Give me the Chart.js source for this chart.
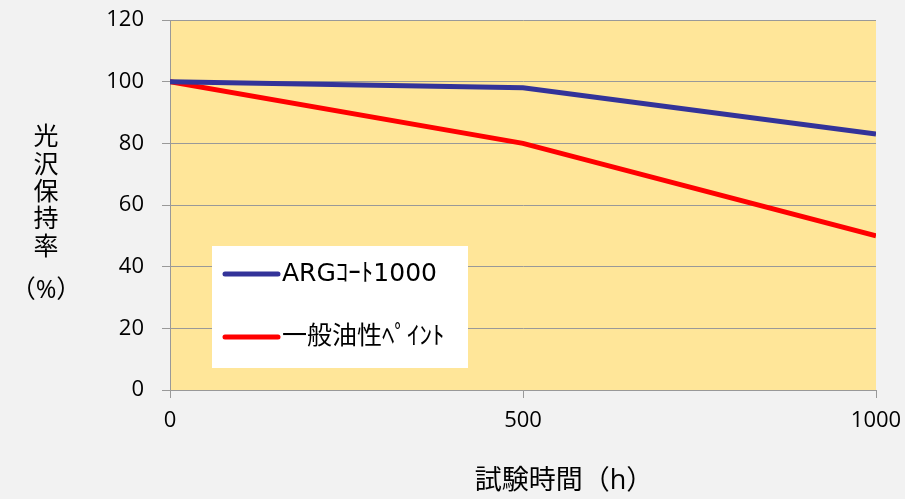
<!DOCTYPE html>
<html>
<head>
<meta charset="utf-8">
<script src="https://cdn.jsdelivr.net/npm/chart.js@4"></script>
<style>
  html, body { margin: 0; padding: 0; background: #f2f2f2; }
  #wrap { width: 905px; height: 499px; }
</style>
</head>
<body>
<div id="wrap"><canvas id="chart"></canvas></div>
<script>
// data
const hours = [0, 500, 1000];
const argCoat = [100, 98, 83];
const oilPaint = [100, 80, 50];
const seriesNames = ['ARGｺｰﾄ1000', '一般油性ﾍﾟｲﾝﾄ'];
const yTitle = ['光', '沢', '保', '持', '率', '（%）'];
const xTitle = '試験時間（h）';

const FONT = '"Open Sans", "Noto Sans CJK JP", sans-serif';
const LEGEND_FONT = '"DejaVu Sans", "Noto Sans CJK JP", sans-serif';

const toPoints = (vals) => hours.map((h, i) => ({ x: h, y: vals[i] }));

// fills the plot area, draws the axis titles and the boxed legend
const decor = {
    id: 'decor',
    beforeDraw(chart) {
        const { ctx, chartArea: a } = chart;
        ctx.save();
        ctx.fillStyle = '#ffe699';
        ctx.fillRect(a.left, a.top, a.right - a.left, a.bottom - a.top);
        ctx.restore();
    },
    afterDatasetsDraw(chart) {
        const ctx = chart.ctx;
        ctx.save();
        ctx.fillStyle = '#000';
        ctx.font = '25px ' + FONT;
        ctx.textAlign = 'center';
        ctx.textBaseline = 'middle';
        const ys = [138, 166, 193, 220, 248, 291];
        yTitle.forEach((t, i) => ctx.fillText(t, 46, ys[i]));
        ctx.font = '27px ' + FONT;
        ctx.fillText(xTitle, 564, 481);

        // legend box
        ctx.fillStyle = '#fff';
        ctx.fillRect(212, 246, 256, 122);
        ctx.lineCap = 'round';
        ctx.lineWidth = 5;
        ctx.textAlign = 'left';
        ctx.font = '25px ' + LEGEND_FONT;
        chart.data.datasets.forEach((ds, i) => {
            const y = 274 + i * 63;
            ctx.strokeStyle = ds.borderColor;
            ctx.beginPath();
            ctx.moveTo(225, y);
            ctx.lineTo(278, y);
            ctx.stroke();
            ctx.fillStyle = '#000';
            ctx.fillText(ds.label, 282, y);
        });
        ctx.restore();
    }
};

new Chart(document.getElementById('chart'), {
    type: 'line',
    data: {
        datasets: [
            { label: seriesNames[0], data: toPoints(argCoat), borderColor: '#333399', borderWidth: 5, pointRadius: 0, tension: 0 },
            { label: seriesNames[1], data: toPoints(oilPaint), borderColor: '#ff0000', borderWidth: 5, pointRadius: 0, tension: 0 }
        ]
    },
    options: {
        responsive: true,
        maintainAspectRatio: false,
        animation: false,
        layout: { padding: { top: 20, right: 29, left: 0, bottom: 0 } },
        plugins: { legend: { display: false }, tooltip: { enabled: false } },
        scales: {
            x: {
                type: 'linear',
                min: 0,
                max: 1000,
                ticks: { stepSize: 500, color: '#000', font: { family: FONT, size: 22 }, padding: 10, callback: (v) => String(v) },
                grid: { drawOnChartArea: false, color: '#999', tickLength: 8 },
                border: { color: '#999', width: 1 },
                afterFit(scale) { scale.height = 109; scale.paddingLeft = 0; scale.paddingRight = 0; }
            },
            y: {
                min: 0,
                max: 120,
                ticks: { stepSize: 20, color: '#000', font: { family: FONT, size: 22 }, padding: 18 },
                grid: { color: '#999', tickLength: 8 },
                border: { color: '#999', width: 1 },
                afterFit(scale) { scale.width = 170; scale.paddingTop = 0; scale.paddingBottom = 0; }
            }
        }
    },
    plugins: [decor]
});
</script>
</body>
</html>
